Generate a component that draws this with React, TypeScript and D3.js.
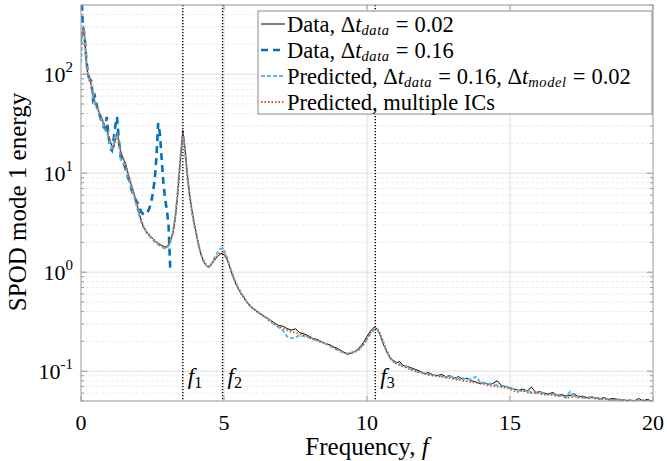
import React from 'react';
import * as d3 from 'd3';

// frequency grid shared by the full-range series (10 per line)
const freqGrid = [
  0.00, 0.04, 0.08, 0.12, 0.16, 0.20, 0.25, 0.30, 0.36, 0.42,
  0.48, 0.54, 0.60, 0.66, 0.72, 0.78, 0.84, 0.90, 0.96, 1.02,
  1.08, 1.14, 1.20, 1.26, 1.32, 1.38, 1.44, 1.50, 1.56, 1.64,
  1.72, 1.80, 1.88, 1.96, 2.04, 2.12, 2.20, 2.30, 2.40, 2.50,
  2.60, 2.70, 2.80, 2.90, 2.98, 3.06, 3.14, 3.22, 3.30, 3.38,
  3.46, 3.52, 3.56, 3.60, 3.66, 3.72, 3.80, 3.88, 3.96, 4.04,
  4.12, 4.20, 4.30, 4.40, 4.48, 4.56, 4.66, 4.76, 4.86, 4.94,
  5.02, 5.10, 5.20, 5.30, 5.40, 5.50, 5.60, 5.70, 5.80, 5.90,
  6.00, 6.15, 6.30, 6.45, 6.60, 6.75, 6.90, 7.05, 7.20, 7.35,
  7.50, 7.65, 7.80, 7.95, 8.10, 8.25, 8.40, 8.55, 8.70, 8.85,
  9.00, 9.15, 9.30, 9.45, 9.60, 9.75, 9.90, 10.00, 10.10, 10.20,
  10.28, 10.36, 10.45, 10.55, 10.65, 10.75, 10.85, 10.95, 11.05, 11.15,
  11.25, 11.40, 11.55, 11.70, 11.85, 12.00, 12.15, 12.30, 12.45, 12.60,
  12.75, 12.90, 13.05, 13.20, 13.35, 13.50, 13.65, 13.80, 13.95, 14.10,
  14.25, 14.40, 14.55, 14.70, 14.85, 15.00, 15.15, 15.30, 15.45, 15.60,
  15.75, 15.90, 16.05, 16.20, 16.35, 16.50, 16.65, 16.80, 16.95, 17.10,
  17.25, 17.40, 17.55, 17.70, 17.85, 18.00, 18.15, 18.30, 18.45, 18.60,
  18.75, 18.90, 19.05, 19.20, 19.35, 19.50, 19.65, 19.80, 19.95, 20.00,
];

// Data, dt = 0.02
const energyFine = [
  200, 260, 290, 250, 170, 120, 95, 88, 80, 58,
  52, 48, 44, 40, 37, 32, 30, 28, 24, 21,
  19, 18, 22, 26, 22, 17, 15, 13.5, 12.5, 10,
  8.2, 7.0, 5.8, 4.8, 3.9, 3.2, 2.8, 2.55, 2.35, 2.2,
  2.05, 1.95, 1.88, 1.8, 1.8, 1.9, 2.1, 2.5, 3.6, 6.0,
  12, 20, 27, 22, 15, 9.5, 6.0, 4.2, 3.1, 2.4,
  1.85, 1.5, 1.25, 1.15, 1.12, 1.2, 1.32, 1.42, 1.52, 1.55,
  1.48, 1.36, 1.12, 0.92, 0.78, 0.68, 0.6, 0.55, 0.5, 0.46,
  0.43, 0.4, 0.375, 0.355, 0.33, 0.31, 0.29, 0.285, 0.27, 0.26,
  0.268, 0.245, 0.238, 0.228, 0.215, 0.21, 0.2, 0.19, 0.185, 0.175,
  0.168, 0.158, 0.148, 0.152, 0.16, 0.175, 0.2, 0.225, 0.25, 0.27,
  0.28, 0.265, 0.235, 0.195, 0.165, 0.145, 0.132, 0.127, 0.122, 0.125,
  0.115, 0.112, 0.108, 0.104, 0.1, 0.094, 0.097, 0.092, 0.09, 0.093,
  0.088, 0.09, 0.085, 0.088, 0.083, 0.085, 0.08, 0.078, 0.075, 0.077,
  0.073, 0.075, 0.08, 0.072, 0.07, 0.068, 0.066, 0.064, 0.066, 0.063,
  0.069, 0.061, 0.062, 0.06, 0.059, 0.061, 0.057, 0.058, 0.056, 0.057,
  0.059, 0.055, 0.056, 0.054, 0.055, 0.054, 0.053, 0.054, 0.052, 0.053,
  0.052, 0.051, 0.051, 0.05, 0.05, 0.053, 0.05, 0.052, 0.05, 0.051,
];

// Predicted, dt_data = 0.16, dt_model = 0.02
const energyPredicted = [
  130, 250, 310, 260, 175, 125, 98, 86, 78, 60,
  50, 46, 45, 38, 35, 31, 28, 26, 23, 20,
  18, 19, 24, 25, 21, 14, 13, 12.5, 11.8, 9.5,
  7.8, 6.6, 5.5, 4.5, 3.7, 3.1, 2.75, 2.5, 2.3, 2.15,
  2.0, 1.9, 1.82, 1.75, 1.72, 1.85, 2.1, 2.6, 3.8, 6.5,
  13, 19, 24, 21, 14, 9, 5.8, 4.0, 3.0, 2.35,
  1.8, 1.5, 1.25, 1.15, 1.13, 1.22, 1.38, 1.55, 1.72, 1.75,
  1.62, 1.42, 1.15, 0.95, 0.8, 0.69, 0.61, 0.56, 0.5, 0.46,
  0.43, 0.41, 0.37, 0.35, 0.33, 0.3, 0.28, 0.26, 0.225, 0.215,
  0.22, 0.23, 0.225, 0.22, 0.21, 0.205, 0.198, 0.19, 0.18, 0.17,
  0.162, 0.155, 0.15, 0.155, 0.158, 0.168, 0.19, 0.21, 0.235, 0.255,
  0.265, 0.26, 0.235, 0.2, 0.17, 0.145, 0.13, 0.123, 0.12, 0.118,
  0.114, 0.11, 0.105, 0.1, 0.097, 0.096, 0.093, 0.091, 0.092, 0.089,
  0.087, 0.088, 0.086, 0.084, 0.085, 0.082, 0.083, 0.088, 0.078, 0.076,
  0.075, 0.073, 0.072, 0.07, 0.071, 0.067, 0.066, 0.064, 0.063, 0.064,
  0.061, 0.06, 0.061, 0.059, 0.058, 0.059, 0.057, 0.056, 0.054, 0.062,
  0.055, 0.056, 0.054, 0.055, 0.053, 0.054, 0.052, 0.053, 0.052, 0.051,
  0.052, 0.051, 0.05, 0.051, 0.05, 0.05, 0.05, 0.05, 0.05, 0.05,
];

// Predicted, multiple ICs
const energyMultiIC = [
  220, 280, 285, 240, 165, 118, 96, 86, 78, 62,
  54, 48, 43, 39, 36, 33, 30, 27, 24, 21.5,
  19.5, 19, 21, 24, 21, 17, 15, 13.5, 12, 10,
  8.3, 7.0, 5.8, 4.8, 3.95, 3.3, 2.85, 2.55, 2.35, 2.2,
  2.05, 1.95, 1.88, 1.82, 1.8, 1.88, 2.1, 2.5, 3.6, 6.0,
  12, 19.5, 26, 22, 15, 9.5, 6.0, 4.2, 3.1, 2.4,
  1.85, 1.52, 1.27, 1.17, 1.14, 1.2, 1.33, 1.45, 1.55, 1.58,
  1.52, 1.38, 1.14, 0.94, 0.79, 0.69, 0.61, 0.55, 0.5, 0.465,
  0.435, 0.4, 0.375, 0.35, 0.32, 0.3, 0.285, 0.27, 0.26, 0.25,
  0.245, 0.238, 0.23, 0.222, 0.212, 0.205, 0.197, 0.19, 0.182, 0.174,
  0.165, 0.157, 0.15, 0.152, 0.158, 0.17, 0.19, 0.215, 0.24, 0.262,
  0.275, 0.27, 0.245, 0.205, 0.17, 0.148, 0.133, 0.124, 0.118, 0.115,
  0.112, 0.108, 0.104, 0.1, 0.097, 0.095, 0.092, 0.09, 0.089, 0.088,
  0.086, 0.085, 0.083, 0.082, 0.08, 0.079, 0.078, 0.077, 0.075, 0.074,
  0.072, 0.071, 0.07, 0.069, 0.068, 0.066, 0.063, 0.062, 0.064, 0.061,
  0.06, 0.061, 0.059, 0.058, 0.059, 0.057, 0.056, 0.057, 0.055, 0.054,
  0.056, 0.054, 0.055, 0.053, 0.054, 0.053, 0.052, 0.053, 0.051, 0.052,
  0.051, 0.052, 0.05, 0.051, 0.05, 0.05, 0.051, 0.05, 0.05, 0.05,
];

// Data, dt = 0.16 (Nyquist ~3.1)
const freqCoarse = [
  0.00, 0.06, 0.12, 0.18, 0.24, 0.30, 0.36, 0.42, 0.48, 0.54,
  0.60, 0.66, 0.72, 0.78, 0.84, 0.90, 0.96, 1.02, 1.08, 1.14,
  1.20, 1.26, 1.32, 1.38, 1.44, 1.50, 1.56, 1.62, 1.68, 1.74,
  1.80, 1.86, 1.92, 1.98, 2.04, 2.10, 2.16, 2.22, 2.28, 2.34,
  2.40, 2.46, 2.52, 2.58, 2.64, 2.70, 2.76, 2.82, 2.88, 2.94,
  3.00, 3.06, 3.12,
];
const energyCoarse = [
  900, 320, 250, 150, 100, 90, 85, 55, 60, 50,
  42, 38, 33, 30, 28, 37, 24, 18, 17, 22,
  30, 37, 22, 15, 13, 12.5, 11, 9.5, 8.5, 7.2,
  6.4, 5.8, 5.3, 5.0, 4.6, 4.1, 3.9, 3.8, 3.9, 4.1,
  4.5, 5.2, 6.5, 8.8, 15, 32, 25, 14, 8, 5.5,
  4.3, 3.0, 1.1,
];

const xTicks = [0, 5, 10, 15, 20];
const yTickExps = [-1, 0, 1, 2];
const markerFreqs = [3.56, 4.95, 10.29];
const markerSubs = ['1', '2', '3'];

const W = 667, H = 461;
const left = 81, right = 653, top = 5, bottom = 401;
const FONT = '"Liberation Serif", "DejaVu Serif", serif';

function App() {
  const x = d3.scaleLinear().domain([0, 20]).range([left, right]);
  const y = d3.scaleLog().domain([0.05, 500]).range([bottom, top]);

  const line = d3.line<[number, number]>().x(d => x(d[0])).y(d => y(d[1]));
  const pairs = (fs: number[], vs: number[]) => fs.map((f, i) => [f, vs[i]] as [number, number]);

  const minorY: number[] = [];
  for (let e = -2; e <= 2; e++) {
    for (let k = 2; k <= 9; k++) {
      const v = k * Math.pow(10, e);
      if (v >= 0.05 && v <= 500) minorY.push(v);
    }
  }

  const legendRows = [0, 1, 2, 3].map(i => 24 + i * 26);
  // Δt with an italic subscript, then an "=" with math spacing
  const dt = (s: string) => (
    <>
      <tspan>Δ</tspan>
      <tspan fontStyle="italic">t</tspan>
      <tspan fontStyle="italic" fontSize={14.5} dy={3} letterSpacing={0.6}>{s}</tspan>
      <tspan dy={-3} dx={6}>=</tspan>
    </>
  );

  return (
    <svg width={W} height={H} style={{ position: 'absolute', left: 0, top: 0, background: '#fff' }} fontFamily={FONT}>
      <defs>
        <clipPath id="plotClip">
          <rect x={left} y={top} width={right - left} height={bottom - top} />
        </clipPath>
      </defs>
      <rect x={0} y={0} width={W} height={H} fill="#fff" />

      {/* grid */}
      {minorY.map((v, i) => (
        <line key={'mg' + i} x1={left} x2={right} y1={y(v)} y2={y(v)} stroke="#e6e6e6" strokeWidth={0.8} strokeDasharray="3,2" />
      ))}
      {yTickExps.map(e => (
        <line key={'yg' + e} x1={left} x2={right} y1={y(Math.pow(10, e))} y2={y(Math.pow(10, e))} stroke="#dedede" strokeWidth={1} />
      ))}
      {xTicks.slice(1, -1).map(t => (
        <line key={'xg' + t} x1={x(t)} x2={x(t)} y1={top} y2={bottom} stroke="#dedede" strokeWidth={1} />
      ))}

      {/* markers */}
      {markerFreqs.map((f, i) => (
        <g key={'mk' + i}>
          <line x1={x(f)} x2={x(f)} y1={top} y2={bottom} stroke="#000" strokeWidth={1.4} strokeDasharray="1.3,1.7" />
          <text x={x(f) + 5} y={384} fontSize={23} fontStyle="italic">
            f<tspan fontStyle="normal" fontSize={16} dy={4}>{markerSubs[i]}</tspan>
          </text>
        </g>
      ))}

      {/* series */}
      <g clipPath="url(#plotClip)" fill="none">
        <path d={line(pairs(freqGrid, energyFine)) || ''} stroke="#000" strokeWidth={1} />
        <path d={line(pairs(freqCoarse, energyCoarse)) || ''} stroke="#0072BD" strokeWidth={2.6} strokeDasharray="7,5" />
        <path d={line(pairs(freqGrid, energyPredicted)) || ''} stroke="#4DBEEE" strokeWidth={2} strokeDasharray="4,2" />
        <path d={line(pairs(freqGrid, energyMultiIC)) || ''} stroke="#D95319" strokeWidth={1.8} strokeDasharray="1.5,2" />
      </g>

      {/* frame and ticks */}
      <rect x={left} y={top} width={right - left} height={bottom - top} fill="none" stroke="#9a9a9a" strokeWidth={1} />
      {xTicks.map(t => (
        <g key={'xt' + t}>
          <line x1={x(t)} x2={x(t)} y1={bottom} y2={bottom - 5} stroke="#9a9a9a" />
          <line x1={x(t)} x2={x(t)} y1={top} y2={top + 5} stroke="#9a9a9a" />
          <text x={x(t)} y={430} fontSize={22} textAnchor="middle">{t}</text>
        </g>
      ))}
      {yTickExps.map(e => (
        <g key={'yt' + e}>
          <line x1={left} x2={left + 6} y1={y(Math.pow(10, e))} y2={y(Math.pow(10, e))} stroke="#9a9a9a" />
          <line x1={right} x2={right - 6} y1={y(Math.pow(10, e))} y2={y(Math.pow(10, e))} stroke="#9a9a9a" />
          <text x={73} y={y(Math.pow(10, e)) + 8} fontSize={22} textAnchor="end">
            10<tspan fontSize={15} dy={-10}>{e}</tspan>
          </text>
        </g>
      ))}
      {minorY.map((v, i) => (
        <g key={'myt' + i}>
          <line x1={left} x2={left + 3} y1={y(v)} y2={y(v)} stroke="#9a9a9a" />
          <line x1={right} x2={right - 3} y1={y(v)} y2={y(v)} stroke="#9a9a9a" />
        </g>
      ))}

      {/* axis labels */}
      <text x={367} y={455} fontSize={25} textAnchor="middle">
        Frequency, <tspan fontStyle="italic">f</tspan>
      </text>
      <text transform="translate(26,202) rotate(-90)" fontSize={25} textAnchor="middle">SPOD mode 1 energy</text>

      {/* legend */}
      <rect x={258} y={11} width={394} height={103} fill="#fff" stroke="#8a8a8a" strokeWidth={1} />
      <g fontSize={22.5}>
        <line x1={261} x2={285} y1={legendRows[0]} y2={legendRows[0]} stroke="#000" strokeWidth={1} />
        <text x={287} y={legendRows[0] + 7.5}>
          <tspan>Data, </tspan>{dt('data')}<tspan dx={6}>0.02</tspan>
        </text>
        <line x1={261} x2={285} y1={legendRows[1]} y2={legendRows[1]} stroke="#0072BD" strokeWidth={2.6} strokeDasharray="7,5" />
        <text x={287} y={legendRows[1] + 7.5}>
          <tspan>Data, </tspan>{dt('data')}<tspan dx={6}>0.16</tspan>
        </text>
        <line x1={261} x2={285} y1={legendRows[2]} y2={legendRows[2]} stroke="#4DBEEE" strokeWidth={2} strokeDasharray="4,2" />
        <text x={287} y={legendRows[2] + 7.5}>
          <tspan>Predicted, </tspan>{dt('data')}<tspan dx={6}>0.16, </tspan>{dt('model')}<tspan dx={6}>0.02</tspan>
        </text>
        <line x1={261} x2={285} y1={legendRows[3]} y2={legendRows[3]} stroke="#D95319" strokeWidth={1.8} strokeDasharray="1.5,2" />
        <text x={287} y={legendRows[3] + 7.5}>Predicted, multiple ICs</text>
      </g>
    </svg>
  );
}

export default App;
